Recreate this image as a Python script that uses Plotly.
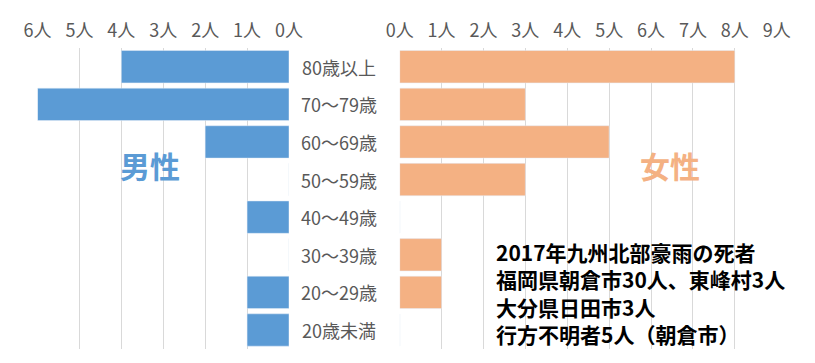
import plotly.graph_objects as go

categories = ["80歳以上", "70〜79歳", "60〜69歳", "50〜59歳", "40〜49歳", "30〜39歳", "20〜29歳", "20歳未満"]
male = [4, 6, 2, 0, 1, 0, 1, 1]
female = [8, 3, 5, 3, 0, 1, 1, 0]
male_ticks = [0, 1, 2, 3, 4, 5, 6]
female_ticks = [0, 1, 2, 3, 4, 5, 6, 7, 8, 9]
note_lines = ["2017年九州北部豪雨の死者", "福岡県朝倉市30人、東峰村3人", "大分県日田市3人", "行方不明者5人（朝倉市）"]

W, H = 815, 363
FONT = "Noto Sans CJK JP"
GRAY = "#595959"
GRID = "#D9D9D9"

fig = go.Figure()
fig.add_trace(go.Bar(y=categories, x=male, orientation="h", marker_color="#5B9BD5",
                     xaxis="x", yaxis="y", showlegend=False))
fig.add_trace(go.Bar(y=categories, x=female, orientation="h", marker_color="#F4B183",
                     xaxis="x2", yaxis="y", showlegend=False))

ytop = 1 - 47.9 / H
ybot = 1 - 348.8 / H

axis_common = dict(side="top", showgrid=True, gridcolor=GRID, gridwidth=1, zeroline=False,
                   showline=False, ticks="", tickfont=dict(family=FONT, size=18, color=GRAY),
                   anchor="y", fixedrange=True, automargin=False, ticklabelstandoff=6)

fig.update_layout(
    width=W, height=H,
    margin=dict(l=0, r=0, t=0, b=0, autoexpand=False),
    paper_bgcolor="white", plot_bgcolor="white",
    bargap=0.14,
    font=dict(family=FONT),
    xaxis=dict(domain=[37.5 / W, 289 / W], range=[6, 0],
               tickvals=male_ticks, ticktext=[f"{v}人" for v in male_ticks], **axis_common),
    xaxis2=dict(domain=[399.7 / W, 776.7 / W], range=[0, 9],
                tickvals=female_ticks, ticktext=[f"{v}人" for v in female_ticks], **axis_common),
    yaxis=dict(domain=[ybot, ytop], categoryorder="array", categoryarray=categories,
               autorange="reversed", showticklabels=False, showgrid=False, zeroline=False,
               fixedrange=True, automargin=False),
)

for c in categories:
    fig.add_annotation(x=339 / W, xref="paper", y=c, yref="y", text=c, showarrow=False,
                       xanchor="center", yanchor="middle",
                       font=dict(family=FONT, size=18, color=GRAY))

fig.add_annotation(x=150 / W, y=1 - 165 / H, xref="paper", yref="paper", text="<b>男性</b>",
                   showarrow=False, xanchor="center", yanchor="middle",
                   font=dict(family=FONT, size=30, color="#5B9BD5"))
fig.add_annotation(x=670 / W, y=1 - 165 / H, xref="paper", yref="paper", text="<b>女性</b>",
                   showarrow=False, xanchor="center", yanchor="middle",
                   font=dict(family=FONT, size=30, color="#F4B183"))

fig.add_annotation(x=494 / W, y=1 - 292.5 / H, xref="paper", yref="paper",
                   text="<br>".join(f"<b>{t}</b>" for t in note_lines),
                   showarrow=False, xanchor="left", yanchor="middle", align="left",
                   font=dict(family=FONT, size=21, color="black"))

fig.write_html("out.html", config={"displayModeBar": False},
               post_script="document.body.style.margin='0';")
